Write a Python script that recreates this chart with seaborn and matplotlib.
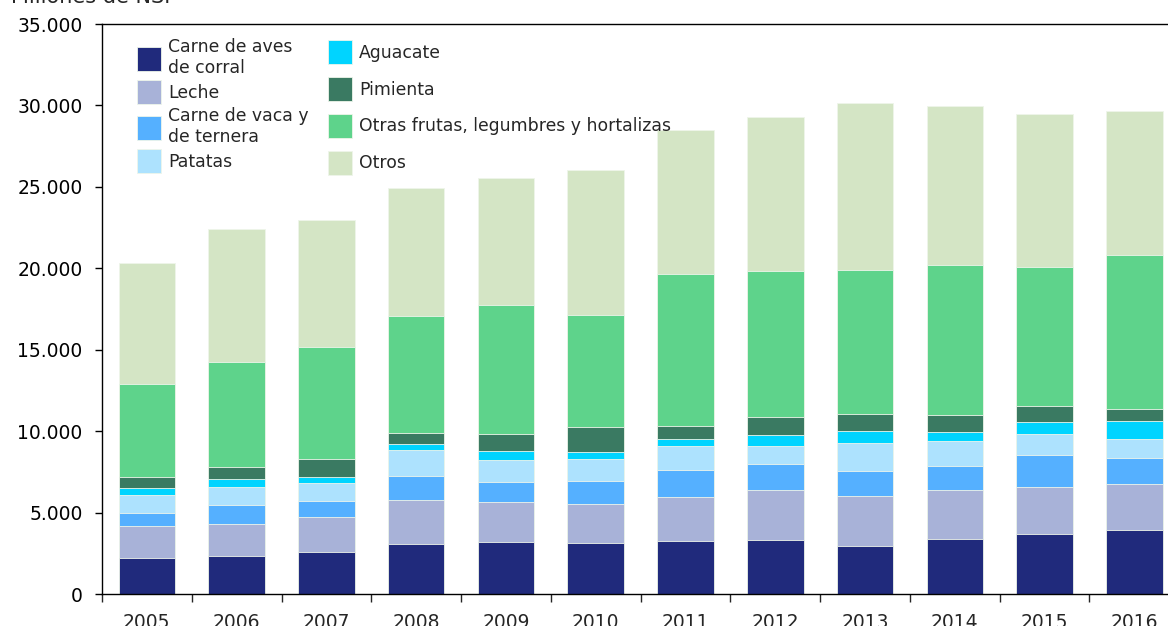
import numpy as np
import pandas as pd
import matplotlib
matplotlib.use("Agg")
import matplotlib.pyplot as plt
import seaborn as sns
from matplotlib.ticker import FuncFormatter, FixedLocator

years = ["2005", "2006", "2007", "2008", "2009", "2010",
         "2011", "2012", "2013", "2014", "2015", "2016"]

# millones de NSI
aves = [2190, 2330, 2600, 3050, 3170, 3130, 3255, 3335, 2945, 3375, 3705, 3930]
leche = [1985, 1950, 2130, 2740, 2475, 2395, 2700, 3050, 3050, 2990, 2865, 2805]
vaca = [815, 1185, 980, 1435, 1210, 1415, 1660, 1595, 1575, 1495, 1965, 1615]
patatas = [1090, 1105, 1125, 1615, 1370, 1350, 1495, 1125, 1680, 1535, 1310, 1185]
aguacate = [410, 470, 350, 390, 570, 430, 410, 635, 755, 575, 735, 1065]
pimienta = [695, 755, 1125, 675, 1005, 1515, 800, 1125, 1065, 1045, 960, 755]
otras_frutas = [5710, 6450, 6880, 7165, 7920, 6900, 9335, 8965, 8840, 9170, 8535, 9480]
otros = [7430, 8150, 7755, 7880, 7820, 8900, 8860, 9455, 10235, 9800, 9375, 8840]

labels = ["Carne de aves\nde corral", "Leche", "Carne de vaca y\nde ternera", "Patatas",
          "Aguacate", "Pimienta", "Otras frutas, legumbres y hortalizas", "Otros"]
colors = ["#202A7C", "#A8B2D8", "#55B0FF", "#ADE2FE",
          "#00D4FF", "#3A7A62", "#5ED38B", "#D4E5C5"]
series = [aves, leche, vaca, patatas, aguacate, pimienta, otras_frutas, otros]

sns.set_style("white")
plt.rcParams["font.family"] = ["DejaVu Sans"]

fig = plt.figure(figsize=(11.68, 6.26), dpi=100)
ax = fig.add_axes([0.0873, 0.0511, 0.9223, 0.9105])

# stacked bars: draw cumulative totals from the top layer down
cum = np.cumsum(np.array(series), axis=0)
df = pd.DataFrame(cum.T, columns=labels)
df["year"] = years
for i in range(len(labels) - 1, -1, -1):
    sns.barplot(data=df, x="year", y=labels[i], color=colors[i], width=0.63,
                saturation=1, edgecolor="#eef5ea", linewidth=0.6,
                label=labels[i], ax=ax)

ax.set_xlim(-0.5, len(years) - 0.5)
ax.set_ylim(0, 35000)
ax.set_xlabel("")
ax.set_ylabel("")
ax.yaxis.set_major_locator(FixedLocator(np.arange(0, 35001, 5000)))
ax.yaxis.set_major_formatter(FuncFormatter(lambda v, p: f"{int(v):,}".replace(",", ".")))
ax.tick_params(axis="y", direction="out", length=5, width=1, pad=9, labelsize=13.5,
               left=True, colors="black")
ax.tick_params(axis="x", which="major", length=0, pad=14, labelsize=13.5)
ax.xaxis.set_minor_locator(FixedLocator(np.arange(-0.5, len(years), 1)))
ax.tick_params(axis="x", which="minor", direction="out", length=6, width=1, bottom=True)

for side in ["left", "bottom", "top", "right"]:
    ax.spines[side].set_visible(True)
    ax.spines[side].set_color("black")
    ax.spines[side].set_linewidth(1)

# legend in two separate columns, as in the original
handles, labs = ax.get_legend_handles_labels()
h = [handles[labs.index(l)] for l in labels]
leg_kw = dict(loc="upper left", frameon=False, fontsize=12.4, handlelength=1.42,
              handleheight=1.77, handletextpad=0.4, borderpad=0, borderaxespad=0)
leg1 = ax.legend(h[:4], labels[:4], bbox_to_anchor=(0.0325, 0.975),
                 labelspacing=0.18, **leg_kw)
ax.add_artist(leg1)
ax.legend(h[4:], labels[4:], bbox_to_anchor=(0.2098, 0.972),
          labelspacing=0.75, **leg_kw)

fig.text(0.009, 1 - 3 / 626, "Millones de NSI", fontsize=15, va="baseline", ha="left")

fig.savefig("out.png", dpi=100)
